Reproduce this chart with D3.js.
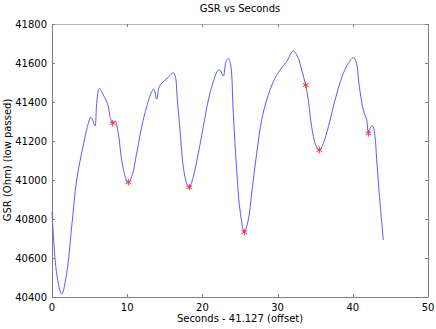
<!DOCTYPE html>
<html><head><meta charset="utf-8">
<script src="https://cdn.jsdelivr.net/npm/d3@7"></script>
<style>body{margin:0;background:#fff}svg{display:block}text{font-family:"DejaVu Sans",sans-serif;font-size:10px;fill:#000}</style>
</head><body><svg id="c" width="436" height="329"></svg>
<script>
const seconds = [0,0.62,1.29,1.95,2.62,3.28,4.17,4.83,5.14,5.4,5.72,5.94,6.29,6.83,7.49,7.71,8.07,8.38,8.82,9.26,9.84,10.15,10.6,11.26,11.93,12.59,13.26,13.56,13.92,14.27,14.8,15.47,16.13,16.4,16.67,17.02,17.46,17.91,18.26,18.79,19.46,20.12,20.79,21.45,22.12,22.4,22.78,23.14,23.45,23.76,24.11,24.56,25.0,25.57,26.1,26.55,27.22,27.88,28.55,29.43,30.32,31.2,32.09,32.75,33.2,33.73,34.08,34.53,35.06,35.55,36.08,36.75,37.41,38.07,38.74,39.4,40.07,40.43,40.87,41.4,41.85,42.07,42.29,42.64,42.95,43.18,43.62,44.06];
const gsr = [40838,40521,40415,40521,40761,41000,41180,41291,41322,41308,41277,41393,41470,41436,41379,41325,41291,41304,41239,41103,41004,40988,41017,41137,41273,41376,41453,41467,41414,41479,41504,41527,41550,41530,41410,41256,41068,40983,40963,41017,41137,41273,41410,41504,41564,41560,41533,41607,41624,41590,41340,41051,40846,40733,40795,40932,41137,41308,41410,41504,41564,41607,41662,41624,41564,41487,41410,41273,41180,41154,41188,41273,41376,41470,41547,41598,41627,41607,41479,41359,41308,41239,41265,41277,41222,41103,40881,40692];
const markerSeconds = [8.07,10.15,18.26,25.57,33.73,35.55,42.07];
const markerGsr = [41291,40988,40963,40733,41487,41154,41239];
const xTicks = [0,10,20,30,40,50];
const yTicks = [40400,40600,40800,41000,41200,41400,41600,41800];

const svg = d3.select("#c");
const L=52,R=428,T=24,B=297;
const x = d3.scaleLinear().domain([0,50]).range([L,R]);
const y = d3.scaleLinear().domain([40400,41800]).range([B,T]);

const g = svg.append("g");
// frame
g.append("line").attr("x1",L).attr("x2",R).attr("y1",T+0.5).attr("y2",T+0.5).attr("stroke","#b4b4b4");
g.append("line").attr("x1",L).attr("x2",R+0.5).attr("y1",B+0.5).attr("y2",B+0.5).attr("stroke","#808080");
g.append("line").attr("x1",L+0.5).attr("x2",L+0.5).attr("y1",T).attr("y2",B).attr("stroke","#808080");
g.append("line").attr("x1",R+0.5).attr("x2",R+0.5).attr("y1",T).attr("y2",B).attr("stroke","#808080");

// x ticks
xTicks.forEach(t=>{
  const px=Math.round(x(t))+0.5;
  g.append("line").attr("x1",px).attr("x2",px).attr("y1",B).attr("y2",B-3).attr("stroke","#808080");
  g.append("line").attr("x1",px).attr("x2",px).attr("y1",T).attr("y2",T+3).attr("stroke","#808080");
  g.append("text").attr("x",x(t)).attr("y",B+14).attr("text-anchor","middle").text(t);
});
yTicks.forEach(t=>{
  const py=Math.round(y(t))+0.5;
  g.append("line").attr("x1",L).attr("x2",L+3).attr("y1",py).attr("y2",py).attr("stroke","#808080");
  g.append("line").attr("x1",R).attr("x2",R-3).attr("y1",py).attr("y2",py).attr("stroke","#808080");
  g.append("text").attr("x",L-5).attr("y",y(t)+4).attr("text-anchor","end").text(t);
});

svg.append("text").attr("x",240).attr("y",12).attr("text-anchor","middle").text("GSR vs Seconds");
svg.append("text").attr("x",240).attr("y",322).attr("text-anchor","middle").text("Seconds - 41.127 (offset)");
svg.append("text").attr("transform","translate(11,160) rotate(-90)").attr("text-anchor","middle").text("GSR (Ohm) (low passed)");

const data = seconds.map((s,i)=>[s,gsr[i]]);
svg.append("path").datum(data)
  .attr("d",d3.line().x(d=>x(d[0])).y(d=>y(d[1])).curve(d3.curveCatmullRom))
  .attr("fill","none").attr("stroke","#5a5aff").attr("stroke-width",1);

const sym = d3.symbol().type(d3.symbolAsterisk).size(30);
markerSeconds.forEach((s,i)=>{
  svg.append("path").attr("d",sym()).attr("transform",`translate(${x(s)},${y(markerGsr[i])})`)
    .attr("fill","none").attr("stroke","#ff3030").attr("stroke-width",1);
});
</script></body></html>
